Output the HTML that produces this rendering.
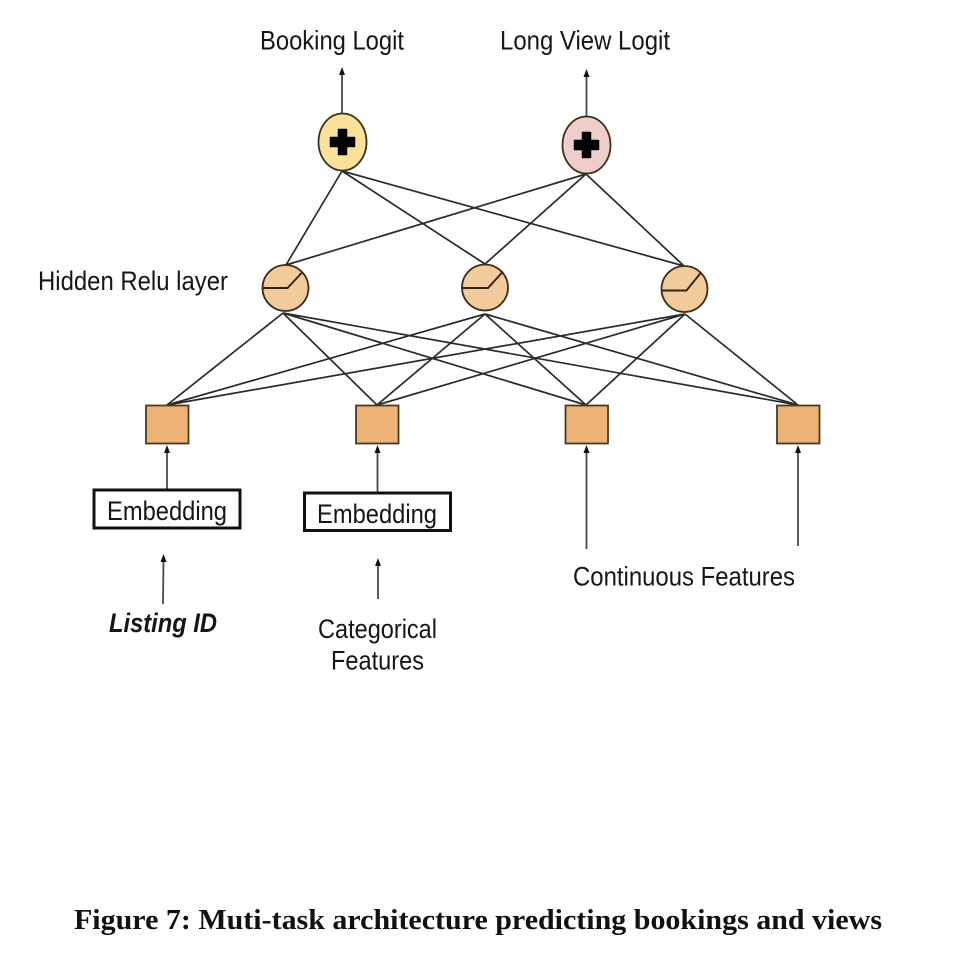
<!DOCTYPE html>
<html><head><meta charset="utf-8"><style>
html,body{margin:0;padding:0;background:#fff}
svg{display:block}
text{font-family:"Liberation Sans",sans-serif;font-size:26.5px;fill:#161616}
</style></head><body>
<svg width="956" height="956" viewBox="0 0 956 956" xmlns="http://www.w3.org/2000/svg">
<rect width="956" height="956" fill="#fff"/>
<g stroke="#2a2a2a" stroke-width="1.7" fill="none">
<path d="M342 171L286 265M342 171L485 264M342 171L684 266M586 174L286 265M586 174L485 264M586 174L684 266"/>
<path d="M283 313L167 405M283 313L377 405M283 313L586 405M283 313L798 405"/>
<path d="M485 314L167 405M485 314L377 405M485 314L586 405M485 314L798 405"/>
<path d="M685 314L167 405M685 314L377 405M685 314L586 405M685 314L798 405"/>
</g>
<g stroke="#4a4a4a" stroke-width="1.8" fill="none">
<path d="M342 113V74M586.500 116V76M167 489V451M377.500 492V451M163 604L163.500 560M378 599V565M586.500 549V451M798 546V451"/>
</g>
<g fill="#111">
<path d="M342 67L339 75H345ZM586.500 69L583.500 77H589.500ZM167 445L164 453H170ZM377.500 445L374.500 453H380.500ZM163.500 554L160.500 562H166.500ZM378 558L375 566H381ZM586.500 445L583.500 453H589.500ZM798 445L795 453H801Z"/>
</g>
<g stroke="#3d2f1c" stroke-width="1.8">
<ellipse cx="342.500" cy="142" rx="24" ry="28.500" fill="#fbe29b"/>
<ellipse cx="586.500" cy="145" rx="24" ry="28.500" fill="#eecdcb"/>
<circle cx="285.500" cy="288" r="23" fill="#f2cb9c"/>
<circle cx="485" cy="287.500" r="23" fill="#f2cb9c"/>
<circle cx="684.500" cy="289" r="23" fill="#f2cb9c"/>
</g>
<g fill="#000" stroke="#000" stroke-width="1.500" stroke-linejoin="round">
<path d="M338.500 129.500H346.500V137.500H354.500V146.500H346.500V154.500H338.500V146.500H330.500V137.500H338.500Z"/>
<path d="M582.500 132.500H590.500V140.500H598.500V149.500H590.500V157.500H582.500V149.500H574.500V140.500H582.500Z"/>
</g>
<g stroke="#33230f" stroke-width="1.9" fill="none">
<path d="M263 288H287.500L302.500 272M462 288H488L503 271.500M662 290.500H686.500L701 272.500"/>
</g>
<g fill="#eeb274" stroke="#4a3a24" stroke-width="1.800">
<rect x="146" y="405.500" width="42.500" height="38"/>
<rect x="356" y="405.500" width="42.500" height="38"/>
<rect x="565.500" y="405.500" width="42.500" height="38"/>
<rect x="777" y="405.500" width="42.500" height="38"/>
</g>
<g fill="#fff" stroke="#111" stroke-width="3">
<rect x="94" y="490" width="146" height="38"/>
<rect x="304.500" y="493" width="146" height="37.500"/>
</g>
<text x="260" y="49.500" textLength="144" lengthAdjust="spacingAndGlyphs">Booking Logit</text>
<text x="500" y="49.500" textLength="170" lengthAdjust="spacingAndGlyphs">Long View Logit</text>
<text x="38" y="290" textLength="190" lengthAdjust="spacingAndGlyphs">Hidden Relu layer</text>
<text x="107" y="520" textLength="120" lengthAdjust="spacingAndGlyphs">Embedding</text>
<text x="317" y="523" textLength="120" lengthAdjust="spacingAndGlyphs">Embedding</text>
<text x="109" y="632" textLength="108" lengthAdjust="spacingAndGlyphs" style="font-weight:bold;font-style:italic">Listing ID</text>
<text x="318" y="638" textLength="119" lengthAdjust="spacingAndGlyphs">Categorical</text>
<text x="331" y="669.500" textLength="93" lengthAdjust="spacingAndGlyphs">Features</text>
<text x="573" y="585.500" textLength="222" lengthAdjust="spacingAndGlyphs">Continuous Features</text>
<text x="74" y="929" textLength="808" lengthAdjust="spacingAndGlyphs" style="font-family:'Liberation Serif',serif;font-weight:bold;font-size:29px;fill:#111">Figure 7: Muti-task architecture predicting bookings and views</text>
</svg>
</body></html>
